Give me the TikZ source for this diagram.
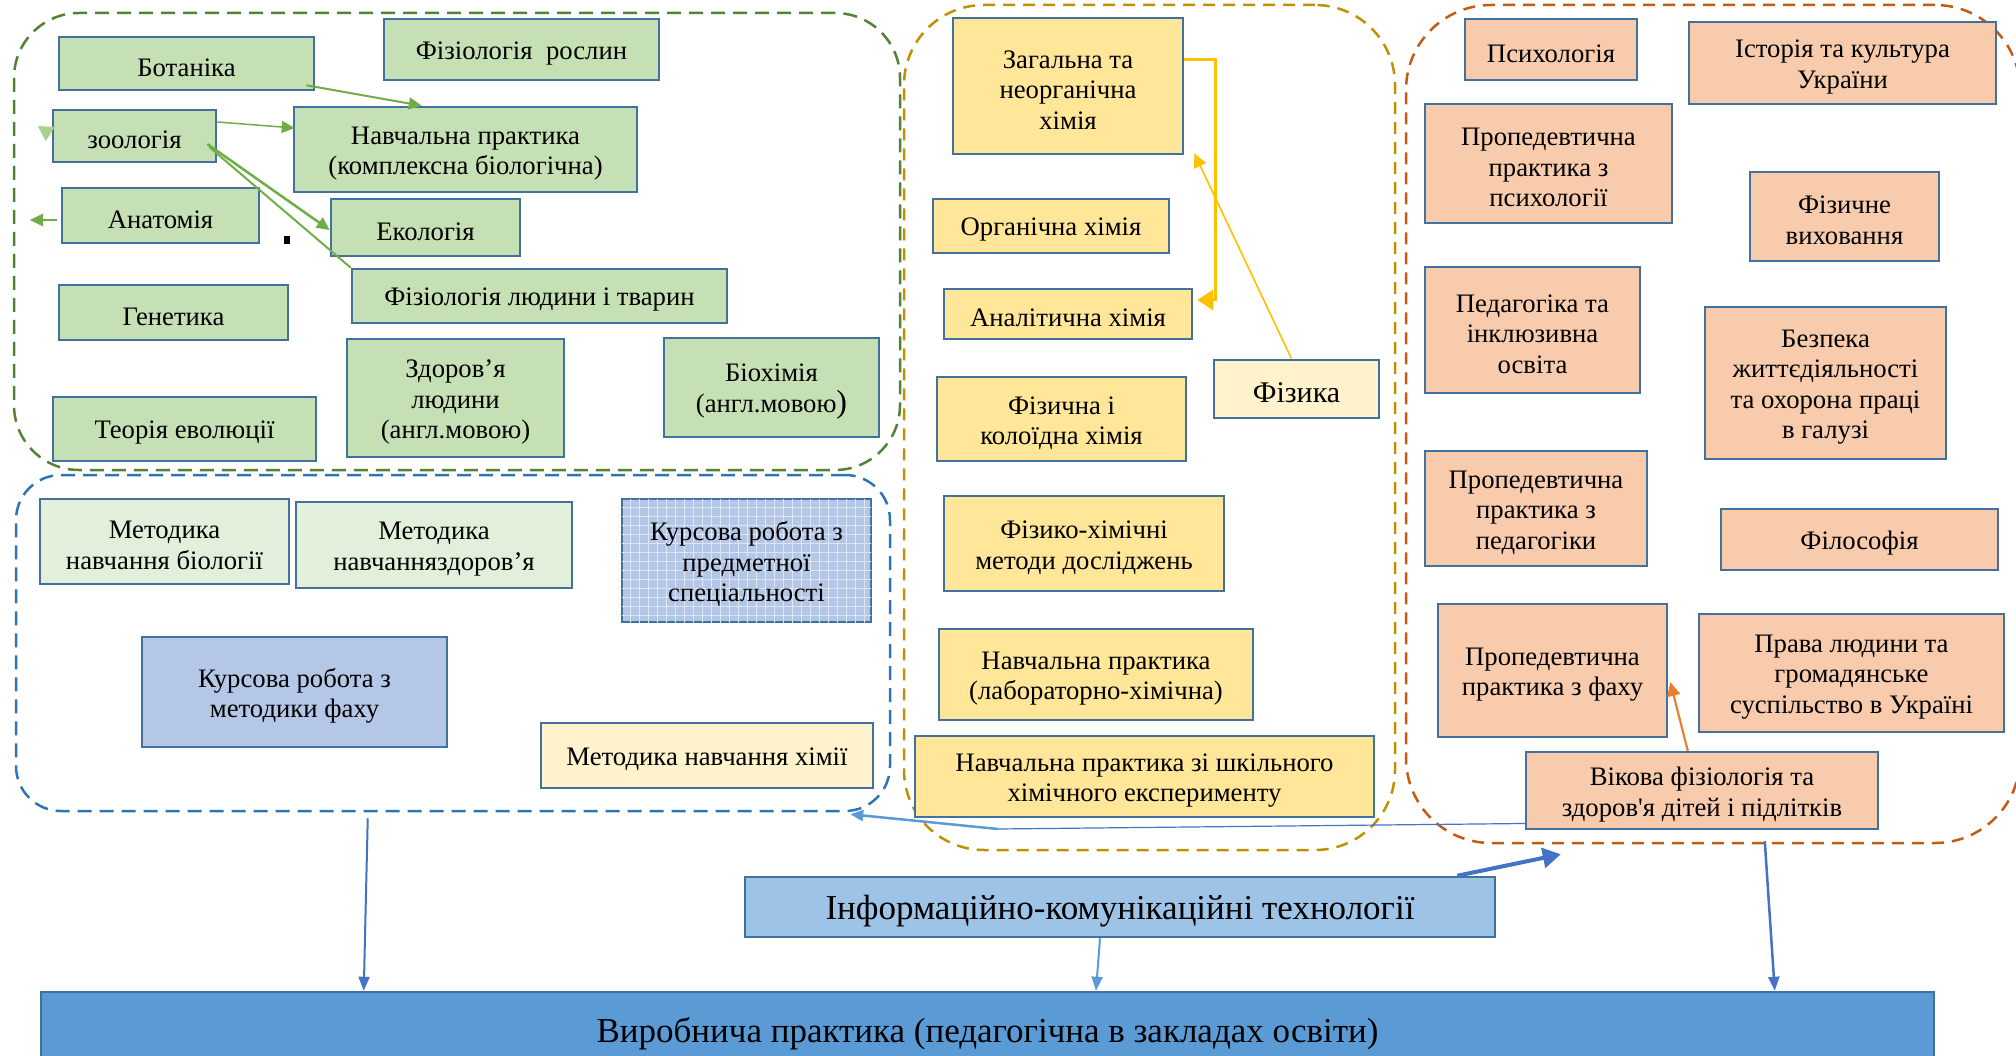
\documentclass[tikz,border=0pt]{standalone}
\usepackage{fontspec}
\setmainfont{Liberation Serif}
\usetikzlibrary{arrows.meta,patterns.meta,calc}
\definecolor{bordc}{HTML}{41719C}
\definecolor{gfill}{HTML}{C5E0B4}
\definecolor{lgfill}{HTML}{E2EFDA}
\definecolor{yfill}{HTML}{FFE699}
\definecolor{lyfill}{HTML}{FFF2CC}
\definecolor{ofill}{HTML}{F8CBAD}
\definecolor{bfill}{HTML}{B4C7E7}
\definecolor{ictfill}{HTML}{9DC3E6}
\definecolor{prodfill}{HTML}{5B9BD5}
\definecolor{garr}{HTML}{70AD47}
\definecolor{lgarr}{HTML}{A9D18E}
\definecolor{gcont}{HTML}{548235}
\definecolor{bcontc}{HTML}{2E75B6}
\definecolor{ycont}{HTML}{BF9000}
\definecolor{ocont}{HTML}{C55A11}
\definecolor{yarr}{HTML}{FFC000}
\definecolor{oarr}{HTML}{ED7D31}
\definecolor{barr}{HTML}{4472C4}
\definecolor{lbarr}{HTML}{5B9BD5}
% container: name, x1, y1, x2, y2, style
\newcommand\mkcont[6]{%
  \pgfmathsetmacro\mkbW{#4-#2}\pgfmathsetmacro\mkbH{#5-#3}%
  \pgfmathsetmacro\mkbX{(#2+#4)/2}\pgfmathsetmacro\mkbY{(#3+#5)/2}%
  \node[#6,minimum width=\mkbW pt,minimum height=\mkbH pt] (#1) at (\mkbX,\mkbY) {};}
% box: name, x1, y1, x2, y2, style, font size, text
\newcommand\mkbox[8]{%
  \mkcont{#1}{#2}{#3}{#4}{#5}{#6}%
  \node[txt,font=\fontsize{#7}{30.5}\selectfont] (#1-t) at ($(#1.center)+(0,4)$) {#8};}
\tikzset{
  subj/.style={draw=bordc,line width=2.5pt,inner sep=0pt},
  txt/.style={inner sep=0pt,align=center},
  gbox/.style={subj,fill=gfill},
  lgbox/.style={subj,fill=lgfill},
  ybox/.style={subj,fill=yfill},
  lybox/.style={subj,fill=lyfill},
  obox/.style={subj,fill=ofill},
  bbox/.style={subj,fill=bfill},
  gridbox/.style={subj,fill=bfill,postaction={pattern={Hatch[distance=9pt,angle=0,line width=0.6pt]},pattern color=white!55!bfill}},
  contbox/.style={line width=2.5pt,dash pattern=on 14pt off 8pt,inner sep=0pt},
  garrow/.style={draw=garr,line width=2pt,-{Triangle[length=13pt,width=12pt]}},
}
\begin{document}
\begin{tikzpicture}[x=1pt,y=-1pt]
\useasboundingbox (0,0) rectangle (2016,1056);
% containers
\mkcont{gcontn}{14}{13}{900}{470}{contbox,draw=gcont,rounded corners=65pt}
\mkcont{bcontn}{16}{475}{890}{811}{contbox,draw=bcontc,rounded corners=45pt}
\mkcont{ycontn}{904}{5}{1395}{850}{contbox,draw=ycont,rounded corners=80pt,dash pattern=on 12pt off 8pt}
\mkcont{ocontn}{1406}{5}{2020}{843}{contbox,draw=ocont,rounded corners=85pt,dash pattern=on 12pt off 8pt}
% green group
\mkbox{bot}{59}{37}{314}{90}{gbox}{26.7}{Ботаніка}
\mkbox{fr}{384}{19}{659}{80}{gbox}{26.7}{Фізіологія\ \ рослин}
\mkbox{zoo}{53}{110}{216}{162}{gbox}{26.7}{зоологія}
\mkbox{nav}{294}{107}{637}{192}{gbox}{26.7}{Навчальна практика\\(комплексна біологічна)}
\mkbox{ana}{62}{188}{259}{243}{gbox}{26.7}{Анатомія}
\mkbox{eco}{331}{199}{520}{256}{gbox}{26.7}{Екологія}
\mkbox{fl}{352}{269}{727}{323}{gbox}{26.7}{Фізіологія людини і тварин}
\mkbox{gen}{59}{285}{288}{340}{gbox}{26.7}{Генетика}
\mkbox{teo}{53}{397}{316}{461}{gbox}{26.7}{Теорія еволюції}
\mkbox{zd}{347}{339}{564}{457}{gbox}{26.7}{Здоров’я\\людини\\(англ.мовою)}
\mkbox{bio}{664}{338}{879}{437}{gbox}{26.7}{Біохімія\\(англ.мовою{\fontsize{32}{30}\selectfont)}}
% blue group
\mkbox{mb}{40}{499}{289}{584}{lgbox}{26.7}{Методика\\навчання біології}
\mkbox{mz}{296}{502}{572}{588}{lgbox}{26.7}{Методика\\навчанняздоров’я}
\mkbox{kp}{622}{499}{871}{622}{gridbox}{26.7}{Курсова робота з\\предметної\\спеціальності}
\mkbox{km}{142}{637}{447}{747}{bbox}{26.7}{Курсова робота з\\методики фаху}
\mkbox{mh}{541}{723}{873}{788}{lybox}{26.7}{Методика навчання хімії}
% chemistry group
\mkbox{zag}{953}{18}{1183}{154}{ybox}{26.7}{Загальна та\\неорганічна\\хімія}
\mkbox{org}{933}{199}{1169}{253}{ybox}{26.7}{Органічна хімія}
\mkbox{anh}{944}{289}{1192}{339}{ybox}{26.7}{Аналітична хімія}
\mkbox{fk}{937}{377}{1186}{461}{ybox}{26.7}{Фізична і\\колоїдна хімія}
\mkbox{fiz}{1214}{360}{1379}{418}{lybox}{30}{Фізика}
\mkbox{fhm}{944}{496}{1224}{591}{ybox}{26.7}{Фізико-хімічні\\методи досліджень}
\mkbox{nlh}{939}{629}{1253}{720}{ybox}{26.7}{Навчальна практика\\(лабораторно-хімічна)}
\mkbox{nsh}{915}{736}{1374}{817}{ybox}{26.7}{Навчальна практика зі шкільного\\хімічного експерименту}
% orange group
\mkbox{psy}{1465}{19}{1637}{80}{obox}{26.7}{Психологія}
\mkbox{ist}{1689}{22}{1996}{104}{obox}{26.7}{Історія та культура\\України}
\mkbox{pps}{1425}{104}{1672}{223}{obox}{26.7}{Пропедевтична\\практика з\\психології}
\mkbox{fv}{1750}{172}{1939}{261}{obox}{26.7}{Фізичне\\виховання}
\mkbox{ped}{1425}{267}{1640}{393}{obox}{26.7}{Педагогіка та\\інклюзивна\\освіта}
\mkbox{bez}{1705}{307}{1946}{459}{obox}{26.7}{Безпека\\життєдіяльності\\та охорона праці\\в галузі}
\mkbox{ppp}{1425}{451}{1647}{566}{obox}{26.7}{Пропедевтична\\практика з\\педагогіки}
\mkbox{fil}{1721}{509}{1998}{570}{obox}{26.7}{Філософія}
\mkbox{ppf}{1438}{604}{1667}{737}{obox}{26.7}{Пропедевтична\\практика з фаху}
\mkbox{prl}{1699}{614}{2004}{732}{obox}{26.7}{Права людини та\\громадянське\\суспільство в Україні}
\mkbox{vik}{1526}{752}{1878}{829}{obox}{26.7}{Вікова фізіологія та\\здоров\textquotesingle я дітей і підлітків}
% bottom
\mkbox{ict}{745}{877}{1495}{937}{subj,fill=ictfill}{35}{Інформаційно-комунікаційні технології}
\mkbox{prod}{41}{992}{1934}{1068}{subj,fill=prodfill}{35}{Виробнича практика (педагогічна в закладах освіти)}
% green connectors
\draw[garrow] ($(bot.south east)+(-9,-6)$) -- ($(nav.north west)+(129,0)$);
\draw[garrow,line width=1.5pt] ($(zoo.east)+(0,-14)$) -- ($(nav.west)+(2,-21.5)$);
\draw[garrow,line width=2.5pt] ($(zoo.east)+(-10,8)$) -- ($(eco.west)+(0,2.5)$);
\draw[draw=garr,line width=2pt] ($(zoo.east)+(-8,11)$) -- (fl.north west);
\draw[garrow] ($(ana.west)+(-4,4.5)$) -- ($(ana.west)+(-31,4.5)$);
\fill[lgarr] ($(zoo.west)+(-14,-10)$) -- ($(zoo.west)+(3,-9)$) -- ($(zoo.west)+(-6,5)$) -- cycle;
\fill[black] (284,236) rectangle (290,244);
% chemistry connectors
\draw[draw=yarr,line width=3pt,-{Triangle[length=16pt,width=20pt]}] ($(zag.east)+(0,-26)$) -- ++(31,0) -- ++(0,240) -- ($(anh.east)+(4,-14)$);
\draw[draw=yarr,line width=1.6pt,-{Triangle[length=14pt,width=13pt]}] ($(fiz.north)+(-5,0)$) -- ($(zag.south east)+(10,-2)$);
% orange connector
\draw[draw=oarr,line width=2.2pt,-{Triangle[length=14pt,width=13pt]}] ($(vik.north west)+(163,0)$) -- ($(ppf.east)+(2,11.5)$);
% vik to blue container
\coordinate (bendc) at (998,829);
\draw[draw=barr,line width=1.2pt] ($(vik.west)+(0,33)$) -- (bendc);
\draw[draw=lbarr,line width=2.5pt,-{Triangle[length=13pt,width=11pt]}] (bendc) -- ($(bcontn.south east)+(-41,2)$);
% bottom arrows
\draw[draw=barr,line width=4pt,-{Triangle[length=18pt,width=20pt]}] ($(ict.north east)+(-39,0)$) -- ($(ocontn.south west)+(156,10)$);
\draw[draw=barr,line width=2pt,-{Triangle[length=14pt,width=11pt]}] ($(bcontn.south west)+(353,6)$) -- ($(prod.north west)+(324,0)$);
\draw[draw=lbarr,line width=2pt,-{Triangle[length=14pt,width=11pt]}] ($(ict.south)+(-20,0)$) -- ($(prod.north)+(108.5,0)$);
\draw[draw=barr,line width=2.5pt,-{Triangle[length=14pt,width=11pt]}] ($(ocontn.south west)+(360,-3)$) -- ($(prod.north west)+(1735,0)$);
\end{tikzpicture}
\end{document}
